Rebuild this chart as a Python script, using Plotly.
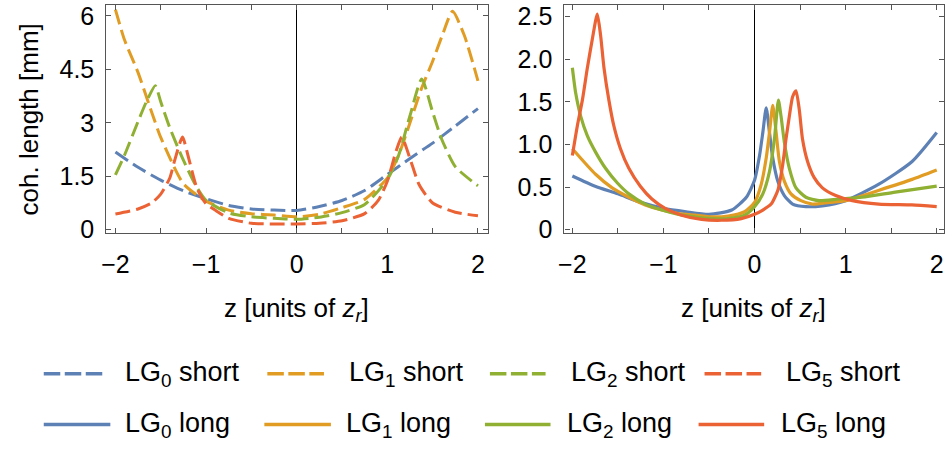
import plotly.graph_objects as go

# ---------------- data ----------------
# left panel: short trajectories (dashed)
z_lg0_short = [-2, -1.75, -1.5, -1.25, -1, -0.75, -0.5, -0.25, 0, 0.25, 0.5, 0.75, 1, 1.25, 1.5, 1.75, 2]
lg0_short = [2.18, 1.75, 1.39, 1.09, 0.87, 0.68, 0.58, 0.55, 0.54, 0.65, 0.82, 1.1, 1.55, 2.0, 2.43, 2.91, 3.4]

z_lg1_short = [-2, -1.9, -1.75, -1.6, -1.5, -1.25, -1, -0.75, -0.5, -0.25, 0, 0.25, 0.5, 0.75, 1,
               1.125, 1.25, 1.375, 1.5, 1.6, 1.72, 1.85, 2]
lg1_short = [6.18, 5.33, 4.41, 3.3, 2.59, 1.29, 0.80, 0.55, 0.45, 0.41, 0.36, 0.43, 0.62, 0.85, 1.45,
             2.09, 3.0, 3.95, 4.73, 5.41, 6.13, 5.45, 4.18]

z_lg2_short = [-2, -1.9, -1.75, -1.65, -1.56, -1.5, -1.4, -1.25, -1.1, -1, -0.75, -0.5, -0.25, 0,
               0.25, 0.5, 0.75, 1, 1.125, 1.25, 1.38, 1.5, 1.6, 1.75, 2]
lg2_short = [1.54, 2.09, 3.04, 3.64, 4.04, 3.59, 2.86, 1.95, 1.18, 0.82, 0.47, 0.36, 0.32, 0.29,
             0.35, 0.48, 0.71, 1.4, 2.09, 3.2, 4.23, 3.3, 2.54, 1.77, 1.23]

z_lg5_short = [-2, -1.75, -1.6, -1.5, -1.4, -1.35, -1.26, -1.2, -1.1, -1, -0.9, -0.75, -0.5, -0.25, 0,
               0.25, 0.5, 0.75, 0.9, 1, 1.1, 1.16, 1.25, 1.35, 1.5, 1.75, 2]
lg5_short = [0.44, 0.58, 0.75, 1.0, 1.45, 1.91, 2.6, 2.09, 1.16, 0.73, 0.55, 0.32, 0.18, 0.16, 0.16,
             0.18, 0.25, 0.45, 0.82, 1.36, 2.23, 2.6, 2.0, 1.27, 0.75, 0.49, 0.39]

# right panel: long trajectories (solid)
z_lg0_long = [-2, -1.75, -1.5, -1.25, -1, -0.75, -0.5, -0.25, -0.09, 0, 0.055, 0.091, 0.128, 0.164,
              0.2, 0.255, 0.327, 0.418, 0.564, 0.745, 1.0, 1.36, 1.73, 2.0]
lg0_long = [0.63, 0.51, 0.42, 0.32, 0.25, 0.21, 0.18, 0.23, 0.38, 0.58, 0.87, 1.14, 1.43, 1.14,
            0.84, 0.57, 0.40, 0.30, 0.27, 0.28, 0.34, 0.53, 0.80, 1.14]

z_lg1_long = [-2.0, -1.745, -1.563, -1.38, -1.2, -1.017, -0.835, -0.654, -0.472, -0.29, -0.109, 0,
              0.073, 0.128, 0.164, 0.2, 0.237, 0.273, 0.327, 0.4, 0.509, 0.636, 0.818, 1.0, 1.36, 1.73, 2.0]
lg1_long = [0.95, 0.65, 0.49, 0.38, 0.29, 0.23, 0.19, 0.17, 0.15, 0.16, 0.21, 0.32,
            0.53, 0.84, 1.14, 1.46, 1.14, 0.80, 0.57, 0.42, 0.34, 0.30, 0.32, 0.34, 0.46, 0.59, 0.70]

z_lg2_long = [-2.0, -1.963, -1.908, -1.835, -1.745, -1.636, -1.508, -1.38, -1.2, -1.017, -0.835,
              -0.654, -0.472, -0.29, -0.109, 0, 0.091, 0.164, 0.218, 0.262, 0.291, 0.327, 0.382,
              0.455, 0.564, 0.709, 0.927, 1.18, 1.545, 2.0]
lg2_long = [1.90, 1.60, 1.33, 1.10, 0.91, 0.72, 0.55, 0.42, 0.30, 0.23, 0.18,
            0.15, 0.13, 0.13, 0.17, 0.27, 0.42, 0.68, 1.06, 1.52, 1.33, 1.03, 0.72,
            0.49, 0.38, 0.34, 0.36, 0.38, 0.44, 0.51]

z_lg5_long = [-2.0, -1.945, -1.89, -1.835, -1.78, -1.726, -1.69, -1.653, -1.599, -1.545, -1.472,
              -1.38, -1.254, -1.127, -0.981, -0.8, -0.581, -0.363, -0.145, 0, 0.091, 0.182, 0.255,
              0.309, 0.345, 0.382, 0.418, 0.455, 0.491, 0.527, 0.582, 0.655, 0.745, 0.891, 1.073,
              1.364, 1.727, 2.0]
lg5_long = [0.87, 1.22, 1.52, 1.90, 2.24, 2.53, 2.28, 1.90, 1.52, 1.22, 0.95,
            0.72, 0.51, 0.36, 0.25, 0.17, 0.12, 0.11, 0.13, 0.18, 0.23, 0.30, 0.46,
            0.76, 1.06, 1.33, 1.56, 1.63, 1.41, 1.06, 0.80, 0.61, 0.49, 0.40, 0.34,
            0.30, 0.29, 0.27]

labels = ["LG<sub>0</sub>", "LG<sub>1</sub>", "LG<sub>2</sub>", "LG<sub>5</sub>"]
colors = ["#5E81B5", "#E19C24", "#8FB032", "#EB6235"]

x_tickvals = [-2, -1, 0, 1, 2]
x_ticktext = ["\u22122", "\u22121", "0", "1", "2"]
y1_tickvals = [0, 1.5, 3, 4.5, 6]
y1_ticktext = ["0", "1.5", "3", "4.5", "6"]
y2_tickvals = [0, 0.5, 1.0, 1.5, 2.0, 2.5]
y2_ticktext = ["0", "0.5", "1.0", "1.5", "2.0", "2.5"]

# ---------------- figure ----------------
FONT = "Liberation Sans, Arial, Helvetica, sans-serif"
FRAME = "#555555"
DASH = "15px,6px"
W = 945
H = 455

fig = go.Figure()

short_z = [z_lg0_short, z_lg1_short, z_lg2_short, z_lg5_short]
short_v = [lg0_short, lg1_short, lg2_short, lg5_short]
long_z = [z_lg0_long, z_lg1_long, z_lg2_long, z_lg5_long]
long_v = [lg0_long, lg1_long, lg2_long, lg5_long]

for zz, vv, lab, col in zip(short_z, short_v, labels, colors):
    fig.add_trace(go.Scatter(x=zz, y=vv, mode="lines", name=lab + " short",
                             line=dict(color=col, width=3, dash=DASH, shape="spline", smoothing=0.6),
                             xaxis="x", yaxis="y", showlegend=False))
for zz, vv, lab, col in zip(long_z, long_v, labels, colors):
    fig.add_trace(go.Scatter(x=zz, y=vv, mode="lines", name=lab + " long",
                             line=dict(color=col, width=3.2, shape="spline", smoothing=0.6),
                             xaxis="x2", yaxis="y2", showlegend=False))

axis_common = dict(showline=True, linecolor=FRAME, linewidth=1.2, mirror="ticks",
                   ticks="inside", ticklen=5, tickcolor=FRAME, tickwidth=1,
                   showgrid=False, ticklabeloverflow="allow",
                   tickfont=dict(family=FONT, size=25, color="black"))
x_minor = dict(ticks="inside", dtick=0.5, tick0=0, ticklen=5, tickcolor=FRAME, tickwidth=1, showgrid=False)

fig.update_layout(
    width=W, height=H,
    margin=dict(l=0, r=0, t=0, b=0),
    paper_bgcolor="white", plot_bgcolor="white",
    xaxis=dict(domain=[101 / W, 485 / W], range=[-2.1, 2.11], tickvals=x_tickvals, ticktext=x_ticktext,
               zeroline=True, zerolinecolor="black", zerolinewidth=1, anchor="y",
               ticklabelstandoff=9, minor=x_minor, **axis_common),
    yaxis=dict(domain=[1 - 237 / H, 1 - 2 / H], range=[-0.1, 6.31], tickvals=y1_tickvals, ticktext=y1_ticktext,
               zeroline=False, anchor="x", ticklabelstandoff=6, **axis_common),
    xaxis2=dict(domain=[562 / W, 944 / W], range=[-2.087, 2.08], tickvals=x_tickvals, ticktext=x_ticktext,
                zeroline=True, zerolinecolor="black", zerolinewidth=1, anchor="y2",
                ticklabelstandoff=9, minor=x_minor, **axis_common),
    yaxis2=dict(domain=[1 - 237 / H, 1 - 2 / H], range=[-0.042, 2.637], tickvals=y2_tickvals, ticktext=y2_ticktext,
                zeroline=False, anchor="x2", ticklabelstandoff=6, **axis_common),
    showlegend=False,
)

ann_font = dict(family=FONT, size=26, color="black")
fig.add_annotation(x=23 / W, y=1 - 120 / H, xref="paper", yref="paper", text="coh. length [mm]",
                   textangle=-90, showarrow=False, font=ann_font, xanchor="center", yanchor="middle")
for cx in (292 / W, 752 / W):
    fig.add_annotation(x=cx, y=1 - 315 / H, xref="paper", yref="paper",
                       text="z [units of <i>z<sub>r</sub></i>]", showarrow=False, font=ann_font,
                       xanchor="center", yanchor="middle")

# ---------------- legend (two rows, drawn in paper coordinates) ----------------
leg_font = dict(family=FONT, size=27, color="black")
row_y = [1 - 381.7 / H, 1 - 434 / H]
short_sym = [(38, 97), (263, 320), (487, 543), (703, 760)]
long_sym = [(38, 105), (260, 327), (482, 548), (697, 763)]
short_txt = [118, 343, 567, 783]
long_txt = [118, 340, 563, 778]
for i, (lab, col) in enumerate(zip(labels, colors)):
    x0, x1 = short_sym[i]
    fig.add_shape(type="line", xref="paper", yref="paper", x0=x0 / W, x1=x1 / W, y0=row_y[0], y1=row_y[0],
                  line=dict(color=col, width=3.5, dash="16.5px,4.5px"))
    fig.add_annotation(x=short_txt[i] / W, y=row_y[0], xref="paper", yref="paper", text=lab + " short",
                       showarrow=False, font=leg_font, xanchor="left", yanchor="middle")
    x0, x1 = long_sym[i]
    fig.add_shape(type="line", xref="paper", yref="paper", x0=x0 / W, x1=x1 / W, y0=row_y[1], y1=row_y[1],
                  line=dict(color=col, width=3.5))
    fig.add_annotation(x=long_txt[i] / W, y=row_y[1], xref="paper", yref="paper", text=lab + " long",
                       showarrow=False, font=leg_font, xanchor="left", yanchor="middle")

fig.write_html("out.html", config={"displayModeBar": False},
               post_script="document.body.style.margin='0';document.body.style.overflow='hidden';")
